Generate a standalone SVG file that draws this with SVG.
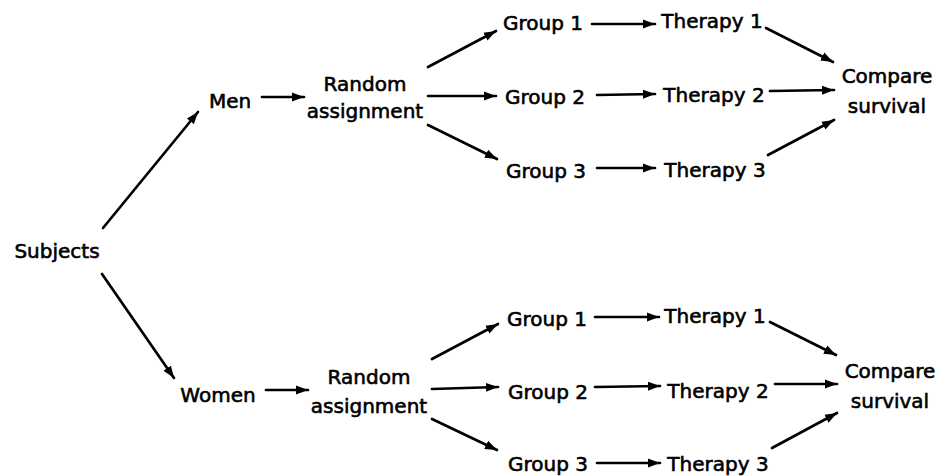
<svg xmlns="http://www.w3.org/2000/svg" width="945" height="476" viewBox="0 0 945 476">
<defs>
<marker id="ah" markerUnits="userSpaceOnUse" markerWidth="13" markerHeight="11" refX="12" refY="5.5" orient="auto">
<path d="M0,1 L12,5.5 L0,10 Z" fill="#000"/>
</marker>
<style>
text{font-family:"DejaVu Sans","Liberation Sans",sans-serif;font-size:20px;fill:#000;stroke:#000;stroke-width:0.6;text-anchor:middle}
.c line{stroke:#000;stroke-width:2.7;marker-end:url(#ah);stroke-linecap:round}
</style>
</defs>
<rect width="945" height="476" fill="#fff"/>
<g id="subjects"><text x="57" y="258">Subjects</text></g>
<g id="men"><text x="230" y="108">Men</text></g>
<g id="random-men"><text x="365" y="91">Random</text><text x="365" y="118">assignment</text></g>
<g id="men-group1"><text x="543" y="30">Group 1</text></g>
<g id="men-group2"><text x="545" y="104">Group 2</text></g>
<g id="men-group3"><text x="546" y="178">Group 3</text></g>
<g id="men-therapy1"><text x="712" y="28">Therapy 1</text></g>
<g id="men-therapy2"><text x="714" y="102">Therapy 2</text></g>
<g id="men-therapy3"><text x="715" y="177">Therapy 3</text></g>
<g id="men-compare"><text x="887" y="83">Compare</text><text x="887" y="113">survival</text></g>
<g id="women"><text x="218" y="402">Women</text></g>
<g id="random-women"><text x="369" y="384">Random</text><text x="369" y="413">assignment</text></g>
<g id="women-group1"><text x="547" y="326">Group 1</text></g>
<g id="women-group2"><text x="548" y="399">Group 2</text></g>
<g id="women-group3"><text x="548" y="471">Group 3</text></g>
<g id="women-therapy1"><text x="715" y="323">Therapy 1</text></g>
<g id="women-therapy2"><text x="718" y="398">Therapy 2</text></g>
<g id="women-therapy3"><text x="718" y="471">Therapy 3</text></g>
<g id="women-compare"><text x="890" y="378">Compare</text><text x="890" y="408">survival</text></g>
<g id="connectors" class="c">
<line x1="103" y1="228" x2="198" y2="112"/>
<line x1="262" y1="97" x2="304" y2="97"/>
<line x1="428" y1="67" x2="496" y2="31"/>
<line x1="428" y1="96" x2="496" y2="96"/>
<line x1="428" y1="125" x2="497" y2="159"/>
<line x1="592" y1="24" x2="655" y2="24"/>
<line x1="597" y1="95" x2="655" y2="94"/>
<line x1="597" y1="168" x2="655" y2="168"/>
<line x1="766" y1="28" x2="833" y2="62"/>
<line x1="770" y1="91" x2="834" y2="90"/>
<line x1="768" y1="155" x2="834" y2="120"/>
<line x1="102" y1="274" x2="174" y2="378"/>
<line x1="266" y1="390" x2="308" y2="390"/>
<line x1="432" y1="359" x2="498" y2="324"/>
<line x1="432" y1="389" x2="498" y2="387"/>
<line x1="432" y1="419" x2="497" y2="450"/>
<line x1="595" y1="317" x2="659" y2="317"/>
<line x1="595" y1="387" x2="660" y2="386"/>
<line x1="597" y1="463" x2="660" y2="463"/>
<line x1="770" y1="322" x2="836" y2="355"/>
<line x1="775" y1="384" x2="837" y2="384"/>
<line x1="772" y1="448" x2="837" y2="413"/>
</g>
</svg>
